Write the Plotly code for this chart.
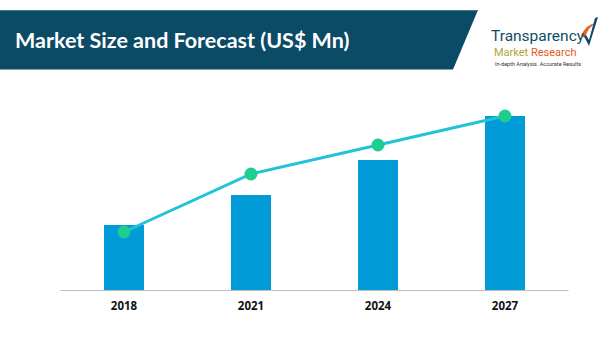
import plotly.graph_objects as go

years = ["2018", "2021", "2024", "2027"]
bar_values = [66, 96, 131, 175]
line_values = [59, 117, 146, 175]

W, H = 600, 352

def px(x):
    return x / W

def py(y):
    return (H - y) / H

fig = go.Figure()
fig.add_trace(go.Bar(
    x=years, y=bar_values, width=0.315,
    marker=dict(color="#019bd8", line=dict(width=0)),
    showlegend=False, hoverinfo="skip",
))
fig.add_trace(go.Scatter(
    x=years, y=line_values, mode="lines+markers",
    line=dict(color="#22c3d6", width=3),
    marker=dict(color="#1fcd8f", size=13, line=dict(width=0)),
    showlegend=False, hoverinfo="skip",
))

shapes = []
# banner
shapes.append(dict(type="path", xref="paper", yref="paper",
                   path=f"M {px(0)} {py(10)} L {px(478)} {py(10)} L {px(453)} {py(69.5)} L {px(0)} {py(69.5)} Z",
                   fillcolor="#0b4b66", line=dict(width=0), layer="below"))
shapes.append(dict(type="line", xref="paper", yref="paper",
                   x0=px(0), x1=px(478), y0=py(10.5), y1=py(10.5),
                   line=dict(color="#3c7a99", width=1)))
# logo check mark
shapes.append(dict(type="path", xref="paper", yref="paper",
                   path=f"M {px(581)} {py(36)} Q {px(586)} {py(24)} {px(596)} {py(23)} Q {px(588)} {py(27)} {px(585)} {py(38)} Z",
                   fillcolor="#e8632a", line=dict(width=0)))
shapes.append(dict(type="path", xref="paper", yref="paper",
                   path=f"M {px(584)} {py(36)} L {px(589)} {py(46)} L {px(598)} {py(17)} L {px(595)} {py(18)} L {px(589)} {py(40)} L {px(586)} {py(35)} Z",
                   fillcolor="#0b4b66", line=dict(width=0)))

annotations = [
    dict(text="<b>Market Size and Forecast (US$ Mn)</b>", xref="paper", yref="paper",
         x=px(13), y=py(40), xanchor="left", yanchor="middle", showarrow=False,
         font=dict(family="Lato, Open Sans, sans-serif", size=21.5, color="white")),
    dict(text="Transparency", xref="paper", yref="paper",
         x=px(489), y=py(36), xanchor="left", yanchor="middle", showarrow=False,
         font=dict(family="Liberation Sans Narrow, Roboto, sans-serif", size=15.5, color="#0f4d66")),
    dict(text="<span style='color:#b3a23c'>Market</span> <span style='color:#df5a22'>Research</span>",
         xref="paper", yref="paper",
         x=px(492), y=py(52.5), xanchor="left", yanchor="middle", showarrow=False,
         font=dict(family="Liberation Sans Narrow, Roboto, sans-serif", size=11, color="#b3a23c")),
    dict(text="In-depth Analysis. Accurate Results", xref="paper", yref="paper",
         x=px(493), y=py(63.5), xanchor="left", yanchor="middle", showarrow=False,
         font=dict(family="Liberation Sans Narrow, Roboto, sans-serif", size=5.5, color="#333333")),
]

fig.update_layout(
    width=W, height=H,
    margin=dict(l=0, r=0, t=0, b=0),
    paper_bgcolor="white", plot_bgcolor="white",
    shapes=shapes, annotations=annotations,
    xaxis=dict(domain=[px(60.5), px(568.5)], type="category", range=[-0.5, 3.5],
               showgrid=False, zeroline=False, showline=False, ticks="",
               tickfont=dict(family="Open Sans, sans-serif", size=11.5, color="#111111", weight="bold"),
               ticklabelstandoff=6),
    yaxis=dict(domain=[py(291), py(91)], range=[0, 200], visible=False, showgrid=False, zeroline=False),
)
# baseline axis line
fig.add_shape(type="line", xref="paper", yref="y", x0=px(60.5), x1=px(568.5), y0=0, y1=0,
              line=dict(color="#bdbdbd", width=2), layer="above")

fig.write_html("out.html")
